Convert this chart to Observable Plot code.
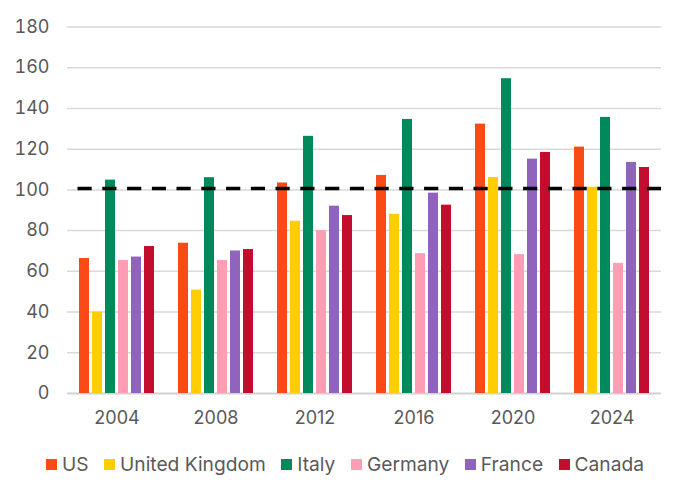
<!DOCTYPE html>
<html>
<head>
<meta charset="utf-8">
<script src="https://cdn.jsdelivr.net/npm/d3@7"></script>
<script src="https://cdn.jsdelivr.net/npm/@observablehq/plot@0.6"></script>
<style>
  html, body { margin: 0; padding: 0; background: #fff; }
  body { width: 678px; height: 492px; overflow: hidden; font-family: Inter, sans-serif; }
  #legend { height: 48px; display: flex; align-items: center; justify-content: center; padding-left: 12px; box-sizing: border-box;
    font-size: 19.2px; color: #595959; }
  .item { display: flex; align-items: center; margin-right: 15.5px; }
  .item:last-child { margin-right: 0; }
  .sw { width: 11px; height: 11px; margin-right: 5px; }
</style>
</head>
<body>
<div id="chart"></div>
<div id="legend"></div>
<script>
const years = ["2004", "2008", "2012", "2016", "2020", "2024"];
const countries = ["US", "United Kingdom", "Italy", "Germany", "France", "Canada"];
const colors = ["#FC4A17", "#FFCD00", "#008A5B", "#FF9DB5", "#9063BC", "#C20D2E"];
const US = [66.3, 73.8, 103.4, 107.1, 132.3, 121.0];
const UK = [40.0, 50.8, 84.6, 88.0, 106.1, 101.3];
const Italy = [104.8, 106.0, 126.3, 134.6, 154.6, 135.6];
const Germany = [65.3, 65.3, 80.0, 68.7, 68.2, 63.9];
const France = [67.0, 70.0, 92.0, 98.4, 115.1, 113.5];
const Canada = [72.2, 70.7, 87.4, 92.5, 118.4, 111.0];
const reference = 100.7;
const yTicks = [0, 20, 40, 60, 80, 100, 120, 140, 160, 180];

const series = [US, UK, Italy, Germany, France, Canada];
const table = [];
years.forEach((year, i) => {
  countries.forEach((country, j) => {
    table.push({year, country, value: series[j][i]});
  });
});

const chart = Plot.plot({
  width: 678,
  height: 440,
  marginLeft: 66,
  marginRight: 17,
  marginTop: 26.5,
  marginBottom: 47,
  style: {fontFamily: "Inter, sans-serif", fontSize: "18px", color: "#595959", background: "#fff"},
  fx: {domain: years, padding: 0, axis: null, label: null},
  x: {domain: countries, paddingInner: 0.25, paddingOuter: 0.85, axis: null},
  y: {domain: [0, 180], axis: null},
  color: {domain: countries, range: colors},
  marks: [
    Plot.gridY(yTicks.filter(d => d > 0), {stroke: "#d9d9d9", strokeOpacity: 1, strokeWidth: 1.5}),
    Plot.ruleY([0], {stroke: "#d0d0d0", strokeWidth: 2}),
    Plot.barY(table, {fx: "year", x: "country", y: "value", fill: "country"}),
    Plot.ruleY([reference], {stroke: "#000", strokeWidth: 3.5, strokeDasharray: "14.2,10.5925", strokeDashoffset: 14.29}),
    Plot.axisY(yTicks, {tickSize: 0, tickPadding: 18, label: null}),
    Plot.axisFx({anchor: "bottom", tickSize: 0, tickPadding: 18, label: null})
  ]
});
document.getElementById("chart").appendChild(chart);

const legend = document.getElementById("legend");
countries.forEach((c, i) => {
  const item = document.createElement("div");
  item.className = "item";
  const sw = document.createElement("span");
  sw.className = "sw";
  sw.style.background = colors[i];
  const label = document.createElement("span");
  label.textContent = c;
  item.appendChild(sw);
  item.appendChild(label);
  legend.appendChild(item);
});
</script>
</body>
</html>
